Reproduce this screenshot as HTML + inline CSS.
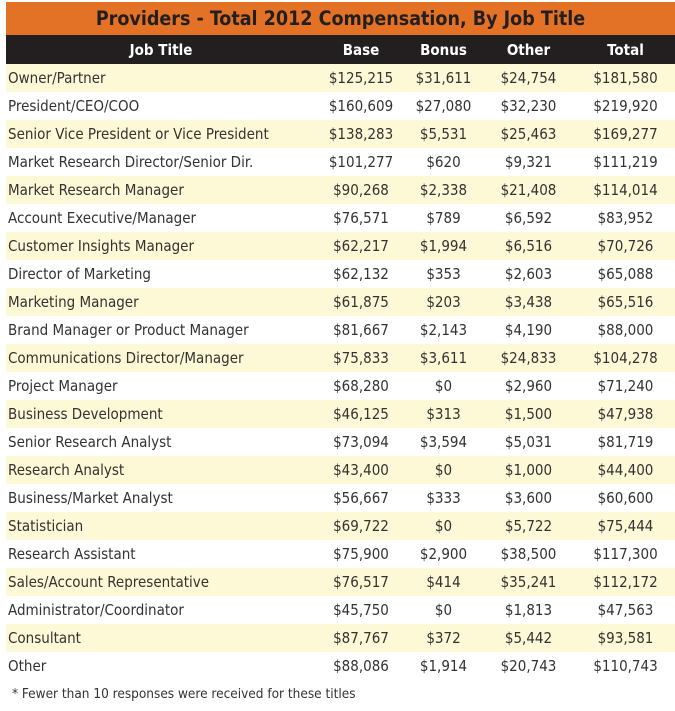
<!DOCTYPE html>
<html><head><style>
body{margin:0;width:675px;height:711px;background:#fff;font-family:"DejaVu Sans Condensed","Liberation Sans",sans-serif;overflow:hidden}
.t{position:absolute;left:6px;top:2px;width:669px;height:33px;background:#e37126;color:#231f20;font-weight:bold;font-size:19.5px;line-height:34px;text-align:center}
table{position:absolute;left:6px;top:35px;width:669px;border-collapse:collapse}
th{background:#231f20;color:#fff;font-weight:bold;font-size:15px;height:29px;padding:0}
td{height:28px;padding:0;font-size:15px;color:#333;text-align:center}
td:first-child{text-align:left;padding-left:2px}
tbody tr:nth-child(odd) td{background:#fdf8d5}
.f{position:absolute;left:12px;top:686px;font-size:13.5px;color:#333}
</style></head><body>
<div class="t">Providers - Total 2012 Compensation, By Job Title</div>
<table>
<colgroup><col style="width:310px"><col style="width:90px"><col style="width:75px"><col style="width:95px"><col style="width:99px"></colgroup>
<thead><tr><th>Job Title</th><th>Base</th><th>Bonus</th><th>Other</th><th>Total</th></tr></thead>
<tbody>
<tr><td>Owner/Partner</td><td>$125,215</td><td>$31,611</td><td>$24,754</td><td>$181,580</td></tr>
<tr><td>President/CEO/COO</td><td>$160,609</td><td>$27,080</td><td>$32,230</td><td>$219,920</td></tr>
<tr><td>Senior Vice President or Vice President</td><td>$138,283</td><td>$5,531</td><td>$25,463</td><td>$169,277</td></tr>
<tr><td>Market Research Director/Senior Dir.</td><td>$101,277</td><td>$620</td><td>$9,321</td><td>$111,219</td></tr>
<tr><td>Market Research Manager</td><td>$90,268</td><td>$2,338</td><td>$21,408</td><td>$114,014</td></tr>
<tr><td>Account Executive/Manager</td><td>$76,571</td><td>$789</td><td>$6,592</td><td>$83,952</td></tr>
<tr><td>Customer Insights Manager</td><td>$62,217</td><td>$1,994</td><td>$6,516</td><td>$70,726</td></tr>
<tr><td>Director of Marketing</td><td>$62,132</td><td>$353</td><td>$2,603</td><td>$65,088</td></tr>
<tr><td>Marketing Manager</td><td>$61,875</td><td>$203</td><td>$3,438</td><td>$65,516</td></tr>
<tr><td>Brand Manager or Product Manager</td><td>$81,667</td><td>$2,143</td><td>$4,190</td><td>$88,000</td></tr>
<tr><td>Communications Director/Manager</td><td>$75,833</td><td>$3,611</td><td>$24,833</td><td>$104,278</td></tr>
<tr><td>Project Manager</td><td>$68,280</td><td>$0</td><td>$2,960</td><td>$71,240</td></tr>
<tr><td>Business Development</td><td>$46,125</td><td>$313</td><td>$1,500</td><td>$47,938</td></tr>
<tr><td>Senior Research Analyst</td><td>$73,094</td><td>$3,594</td><td>$5,031</td><td>$81,719</td></tr>
<tr><td>Research Analyst</td><td>$43,400</td><td>$0</td><td>$1,000</td><td>$44,400</td></tr>
<tr><td>Business/Market Analyst</td><td>$56,667</td><td>$333</td><td>$3,600</td><td>$60,600</td></tr>
<tr><td>Statistician</td><td>$69,722</td><td>$0</td><td>$5,722</td><td>$75,444</td></tr>
<tr><td>Research Assistant</td><td>$75,900</td><td>$2,900</td><td>$38,500</td><td>$117,300</td></tr>
<tr><td>Sales/Account Representative</td><td>$76,517</td><td>$414</td><td>$35,241</td><td>$112,172</td></tr>
<tr><td>Administrator/Coordinator</td><td>$45,750</td><td>$0</td><td>$1,813</td><td>$47,563</td></tr>
<tr><td>Consultant</td><td>$87,767</td><td>$372</td><td>$5,442</td><td>$93,581</td></tr>
<tr><td>Other</td><td>$88,086</td><td>$1,914</td><td>$20,743</td><td>$110,743</td></tr>
</tbody></table>
<div class="f">* Fewer than 10 responses were received for these titles</div>
</body></html>
